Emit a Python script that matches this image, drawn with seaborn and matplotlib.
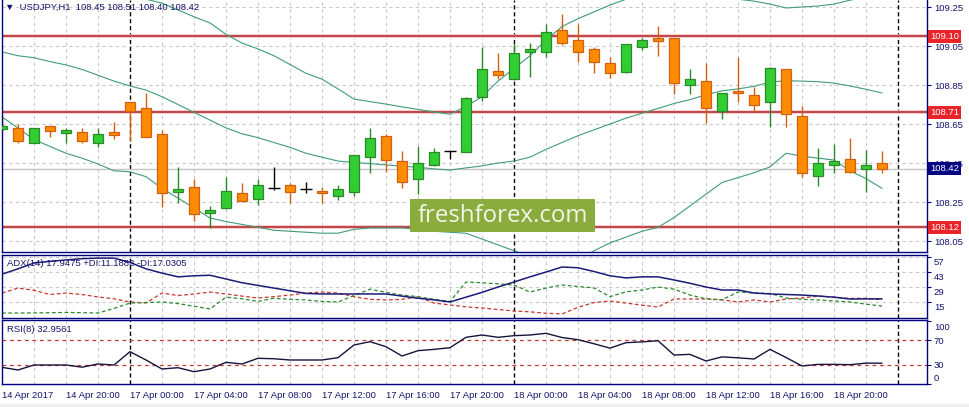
import numpy as np
import pandas as pd
import matplotlib
matplotlib.use("Agg")
import matplotlib.pyplot as plt
import matplotlib.transforms as mtransforms
from matplotlib.patches import Rectangle
import seaborn as sns

# ---------------- data ----------------
opens = [108.624, 108.628, 108.554, 108.640, 108.605, 108.607, 108.554, 108.607,
         108.763, 108.731, 108.597, 108.303, 108.325, 108.195, 108.218, 108.296,
         108.264, 108.323, 108.337, 108.315, 108.306, 108.282, 108.303, 108.479,
         108.588, 108.459, 108.366, 108.438, 108.512, 108.508, 108.787, 108.922,
         108.879, 109.021, 109.021, 109.132, 109.081, 109.035, 108.961, 108.918,
         109.046, 109.093, 109.090, 108.848, 108.871, 108.718, 108.821, 108.797,
         108.761, 108.931, 108.691, 108.385, 108.438, 108.469, 108.418, 108.450]
highs = [108.686, 108.648, 108.632, 108.642, 108.628, 108.628, 108.631, 108.660,
         108.765, 108.807, 108.619, 108.431, 108.366, 108.230, 108.380, 108.349,
         108.366, 108.431, 108.349, 108.354, 108.325, 108.337, 108.492, 108.631,
         108.597, 108.512, 108.539, 108.525, 108.514, 108.787, 109.043, 109.016,
         109.064, 109.064, 109.163, 109.214, 109.163, 109.043, 108.992, 109.061,
         109.093, 109.153, 109.092, 108.932, 108.964, 108.809, 108.992, 108.838,
         108.941, 108.933, 108.742, 108.525, 108.547, 108.580, 108.517, 108.510]
lows = [108.609, 108.554, 108.552, 108.585, 108.554, 108.554, 108.534, 108.575,
        108.564, 108.583, 108.226, 108.246, 108.154, 108.115, 108.216, 108.255,
        108.235, 108.312, 108.246, 108.295, 108.246, 108.260, 108.280, 108.397,
        108.405, 108.323, 108.290, 108.436, 108.469, 108.506, 108.769, 108.879,
        108.877, 108.890, 108.992, 109.055, 108.970, 108.910, 108.887, 108.910,
        109.030, 109.000, 108.804, 108.804, 108.654, 108.676, 108.761, 108.710,
        108.636, 108.636, 108.377, 108.334, 108.397, 108.397, 108.303, 108.400]
closes = [108.640, 108.564, 108.630, 108.616, 108.619, 108.564, 108.597, 108.595,
          108.718, 108.585, 108.295, 108.317, 108.187, 108.209, 108.306, 108.257,
          108.337, 108.323, 108.303, 108.315, 108.295, 108.315, 108.490, 108.577,
          108.465, 108.354, 108.448, 108.508, 108.512, 108.782, 108.931, 108.900,
          109.013, 109.033, 109.120, 109.067, 109.021, 108.970, 108.910, 109.059,
          109.081, 109.077, 108.859, 108.879, 108.731, 108.807, 108.807, 108.749,
          108.939, 108.700, 108.397, 108.448, 108.459, 108.405, 108.438, 108.420]

bb_upper = [109.36, 109.37, 109.39, 109.40, 109.40, 109.385, 109.36, 109.33,
            109.30, 109.29, 109.27, 109.235, 109.20, 109.168, 109.11, 109.065,
            109.035, 109.00, 108.955, 108.91, 108.88, 108.83, 108.778, 108.765,
            108.752, 108.738, 108.725, 108.712, 108.70, 108.74, 108.79, 108.87,
            108.935, 109.00, 109.08, 109.15, 109.19, 109.225, 109.26, 109.29,
            109.31, 109.33, 109.34, 109.33, 109.32, 109.30, 109.29, 109.28,
            109.265, 109.245, 109.25, 109.255, 109.265, 109.285, 109.30, 109.31]
bb_middle = [109.02, 109.00, 108.99, 108.97, 108.953, 108.93, 108.90, 108.87,
             108.845, 108.824, 108.79, 108.75, 108.71, 108.67, 108.63, 108.60,
             108.58, 108.555, 108.53, 108.50, 108.48, 108.46, 108.453, 108.447,
             108.44, 108.434, 108.428, 108.42, 108.414, 108.425, 108.435, 108.45,
             108.46, 108.48, 108.52, 108.555, 108.59, 108.62, 108.65, 108.68,
             108.705, 108.73, 108.755, 108.775, 108.80, 108.82, 108.83, 108.843,
             108.865, 108.872, 108.87, 108.867, 108.86, 108.845, 108.828, 108.809]
bb_lower = [108.686, 108.63, 108.57, 108.535, 108.50, 108.475, 108.445, 108.41,
            108.405, 108.38, 108.32, 108.27, 108.22, 108.168, 108.15, 108.135,
            108.12, 108.105, 108.10, 108.095, 108.09, 108.09, 108.11, 108.117,
            108.117, 108.117, 108.11, 108.10, 108.095, 108.09, 108.06, 108.03,
            108.00, 107.97, 107.94, 107.93, 107.95, 108.00, 108.04, 108.07,
            108.10, 108.12, 108.17, 108.23, 108.29, 108.35, 108.375, 108.40,
            108.43, 108.50, 108.485, 108.475, 108.465, 108.41, 108.37, 108.32]

adx_main = [41, 46, 51.5, 53, 54.3, 55.5, 56, 56, 52, 46, 42, 38.5, 39.5, 40,
            36.5, 33, 30.5, 28, 25.5, 23, 22.5, 22.5, 22.5, 22.5, 22.5, 20.5,
            18.5, 17, 15, 19.5, 24, 29, 33.7, 38.5, 43, 47.7, 47, 43.5, 39.5,
            37.5, 38.5, 38.5, 35.6, 32.5, 29, 26.2, 26.2, 23.4, 22.5, 22, 21.5,
            20.6, 19.5, 17.8, 17.9, 17.95]
plus_di = [4.7, 4.7, 4.8, 5, 5.2, 5, 4.7, 9, 14, 14.5, 15, 13.5, 11, 8.5, 19.5,
           18, 15.5, 18.5, 17.5, 16.9, 15.5, 15, 21, 27, 24, 21.5, 20, 17.5,
           15.5, 33.7, 33, 32, 30.9, 24.3, 28, 30.9, 29.5, 28.1, 20, 24.5, 26.2,
           29, 27, 21.5, 18, 17, 24.3, 23.4, 23, 18.7, 17.5, 16.9, 16, 15, 13,
           11.19]
minus_di = [23.4, 28, 26, 22, 23.4, 22, 19.7, 18, 15, 14.1, 23.4, 21, 22.5, 24.3,
            22.5, 20.5, 18.7, 20, 21.5, 23.4, 24.3, 23.4, 20, 17.5, 16.9, 17.5,
            19.7, 14, 12.2, 10.5, 9.4, 8, 6.6, 5.8, 4.5, 3.8, 10, 14.5, 15.9, 14,
            12, 10.3, 17.8, 17.8, 17.8, 17, 15, 16.9, 15, 17.8, 18.7, 20.6, 19.5,
            18.3, 18.5, 17.03]
rsi = [26.3, 22, 30, 30, 30, 26.5, 31.6, 30, 51.3, 38, 23.6, 25.7, 19.3, 23.6,
       34.3, 31.6, 40.7, 40, 38, 38, 38, 41.7, 62, 67.3, 59.3, 44.4, 52.9, 55,
       57.7, 74.3, 78, 74.3, 76.9, 78, 80.7, 74, 70.5, 64, 57, 65.7, 67, 68.9,
       46, 47, 36.4, 43, 41.5, 39.6, 55, 42, 28.4, 31, 31, 30.5, 33, 32.96]

levels = [109.10, 108.71, 108.12]
price_ticks = [109.25, 109.05, 108.85, 108.65, 108.45, 108.25, 108.05]
adx_ticks = [57, 43, 29, 15]
rsi_ticks = [100, 70, 30, 0]
rsi_levels = [70, 30]
day_breaks = [8, 32, 56]
time_tick_bars = list(range(0, 56, 4))
time_tick_labels = ["14 Apr 2017", "14 Apr 20:00", "17 Apr 00:00", "17 Apr 04:00",
                    "17 Apr 08:00", "17 Apr 12:00", "17 Apr 16:00", "17 Apr 20:00",
                    "18 Apr 00:00", "18 Apr 04:00", "18 Apr 08:00", "18 Apr 12:00",
                    "18 Apr 16:00", "18 Apr 20:00"]

bars = np.arange(len(opens))
df = pd.DataFrame({"bar": bars, "open": opens, "high": highs, "low": lows,
                   "close": closes, "upper": bb_upper, "middle": bb_middle,
                   "lower": bb_lower, "adx": adx_main, "pdi": plus_di,
                   "mdi": minus_di, "rsi": rsi})

# ---------------- style ----------------
sns.set_theme(style="white")
plt.rcParams["font.family"] = ["Liberation Sans", "DejaVu Sans"]
FS = 6.8
NAVY = "#000080"
TXT = "#14146e"
GRID = "#c8c8c8"

W, H = 969, 407
fig = plt.figure(figsize=(W / 100, H / 100), dpi=100)
fig.patch.set_facecolor("white")
fig.patches.append(Rectangle((0, 0), 1, 3.5 / H, transform=fig.transFigure,
                             fc="#f0f0f0", ec="none", zorder=0))


def rect(x0, y0, x1, y1):
    return [x0 / W, (H - y1) / H, (x1 - x0) / W, (y1 - y0) / H]


ax = fig.add_axes(rect(2, 0, 927, 251.5))
ax_adx = fig.add_axes(rect(2, 254.5, 927, 317.5))
ax_rsi = fig.add_axes(rect(2, 320, 927, 384))
XL = (0, 57.8125)

for a in (ax, ax_adx, ax_rsi):
    a.set_xlim(*XL)
    a.set_facecolor("white")
    for s in a.spines.values():
        s.set_color(NAVY)
        s.set_linewidth(1.0)
    a.yaxis.tick_right()
    a.tick_params(axis="y", which="both", right=True, left=False, length=3,
                  width=0.8, color=NAVY, labelsize=FS, labelcolor=TXT, pad=2)
    a.tick_params(axis="x", bottom=False, labelbottom=False)
    a.set_xlabel("")
    a.set_ylabel("")
    for xb in range(2, 58, 2):
        if xb not in day_breaks:
            a.axvline(xb, color=GRID, lw=0.8, ls=(0, (3, 3)), zorder=0.5)
    for xb in day_breaks:
        a.axvline(xb, color="black", lw=1.0, ls=(0, (3, 2)), zorder=0.6)
ax.spines["top"].set_visible(False)

# ---------------- main price panel ----------------
ax.set_ylim(107.9962, 109.2859)
ax.set_yticks(price_ticks)
ax.set_yticklabels([f"{p:.2f}" for p in price_ticks])
for p in price_ticks:
    ax.axhline(p, color=GRID, lw=0.8, ls=(0, (3, 3)), zorder=0.5)
ax.axhline(closes[-1], color="#c4c4c4", lw=1.0, zorder=0.7)

for lv in levels:
    ax.axhline(lv, color="#f3c4c4", lw=2.6, zorder=0.8)
    ax.axhline(lv, color="#b0232a", lw=1.1, zorder=0.9)

band_color = "#3f9c78"
for col in ("upper", "middle", "lower"):
    sns.lineplot(data=df, x="bar", y=col, ax=ax, color=band_color, lw=0.8,
                 zorder=1)

GREEN_F, GREEN_E = "#32cd32", "#2a8a2a"
ORANGE_F, ORANGE_E = "#ff8c00", "#d2600f"
bw = 0.6
for i, (o, h, l, c) in enumerate(zip(opens, highs, lows, closes)):
    if c > o:
        fc, ec = GREEN_F, GREEN_E
    elif c < o:
        fc, ec = ORANGE_F, ORANGE_E
    else:
        fc, ec = "black", "black"
    ax.vlines(i, l, h, color=ec, lw=1.0, zorder=2)
    if c == o:
        ax.hlines(c, i - bw / 2 - 0.05, i + bw / 2 + 0.05, color="black",
                  lw=1.0, zorder=3)
    else:
        ax.bar(i, abs(c - o), bottom=min(o, c), width=bw, color=fc,
               edgecolor=ec, linewidth=0.9, zorder=3)
ax.set_xlim(*XL)
ax.set_xlabel("")
ax.set_ylabel("")

tr = mtransforms.blended_transform_factory(ax.transAxes, ax.transData)
for lv in levels:
    ax.text(1.0035, lv, f"{lv:.2f}", transform=tr, ha="left", va="center",
            fontsize=FS, color="white", zorder=10, clip_on=False,
            bbox=dict(boxstyle="square,pad=0.22", fc="#e8232a", ec="none"))
ax.text(1.0035, closes[-1], f"{closes[-1]:.2f}", transform=tr, ha="left",
        va="center", fontsize=FS, color="white", zorder=10, clip_on=False,
        bbox=dict(boxstyle="square,pad=0.22", fc="#000080", ec="none"))

fig.text(5 / W, 1 - 7.5 / H,
         f"\u25bc  USDJPY,H1  {opens[-1]:.2f} {highs[-1]:.2f} {lows[-1]:.2f} {closes[-1]:.2f}",
         fontsize=FS, color=TXT, va="center", ha="left",
         family=["Liberation Sans", "DejaVu Sans"])

# watermark
fig.patches.append(Rectangle((410 / W, 1 - 232 / H), 185 / W, 33 / H,
                             transform=fig.transFigure, fc="#8aab3e",
                             ec="none", zorder=5))
fig.text(502.5 / W, 1 - 216 / H, "freshforex.com", fontsize=17.3,
         family=["Open Sans", "DejaVu Sans"], color="#f4f6e8", ha="center",
         va="center", zorder=6)

# ---------------- ADX panel ----------------
ax_adx.set_ylim(0.5, 59.4)
ax_adx.set_yticks(adx_ticks)
ax_adx.set_yticklabels([str(t) for t in adx_ticks])
for t in adx_ticks:
    ax_adx.axhline(t, color=GRID, lw=0.8, ls=(0, (3, 3)), zorder=0.5)
off = mtransforms.ScaledTranslation(0, -4.5 / 100, fig.dpi_scale_trans)
for lab in ax_adx.get_yticklabels():
    lab.set_transform(lab.get_transform() + off)
sns.lineplot(data=df, x="bar", y="mdi", ax=ax_adx, color="#c8372d", lw=0.9,
             zorder=2).lines[-1].set_linestyle((0, (3, 2)))
sns.lineplot(data=df, x="bar", y="pdi", ax=ax_adx, color="#2f8a2f", lw=0.9,
             zorder=2).lines[-1].set_linestyle((0, (3, 2)))
sns.lineplot(data=df, x="bar", y="adx", ax=ax_adx, color="#1b1b78", lw=1.1,
             zorder=3)
ax_adx.set_xlim(*XL)
ax_adx.set_xlabel("")
ax_adx.set_ylabel("")
ax_adx.text(5 / 925, 1 - 9 / 63, "ADX(14) 17.9475 +DI:11.1882 -DI:17.0305",
            transform=ax_adx.transAxes, fontsize=FS, color=TXT, ha="left",
            va="center", zorder=5)

# ---------------- RSI panel ----------------
ax_rsi.set_ylim(-0.4, 102)
ax_rsi.set_yticks(rsi_ticks)
ax_rsi.set_yticklabels([str(t) for t in rsi_ticks])
labs = ax_rsi.get_yticklabels()
labs[0].set_transform(labs[0].get_transform() +
                      mtransforms.ScaledTranslation(0, -5 / 100, fig.dpi_scale_trans))
labs[3].set_transform(labs[3].get_transform() +
                      mtransforms.ScaledTranslation(0, 6.5 / 100, fig.dpi_scale_trans))
for lv in rsi_levels:
    ax_rsi.axhline(lv, color="#c8372d", lw=0.9, ls=(0, (3, 3)), zorder=1)
sns.lineplot(data=df, x="bar", y="rsi", ax=ax_rsi, color="#14143c", lw=1.0,
             zorder=3)
ax_rsi.set_xlim(*XL)
ax_rsi.set_xlabel("")
ax_rsi.set_ylabel("")
ax_rsi.text(5 / 925, 1 - 9 / 64, "RSI(8) 32.9561", transform=ax_rsi.transAxes,
            fontsize=FS, color=TXT, ha="left", va="center", zorder=5)

ax_rsi.set_xticks(time_tick_bars)
ax_rsi.set_xticklabels(time_tick_labels)
ax_rsi.tick_params(axis="x", bottom=True, labelbottom=True, length=0, pad=5,
                   labelsize=FS, labelcolor=TXT)
for lab in ax_rsi.get_xticklabels():
    lab.set_horizontalalignment("left")

fig.savefig("out.png", dpi=100, facecolor="white")
